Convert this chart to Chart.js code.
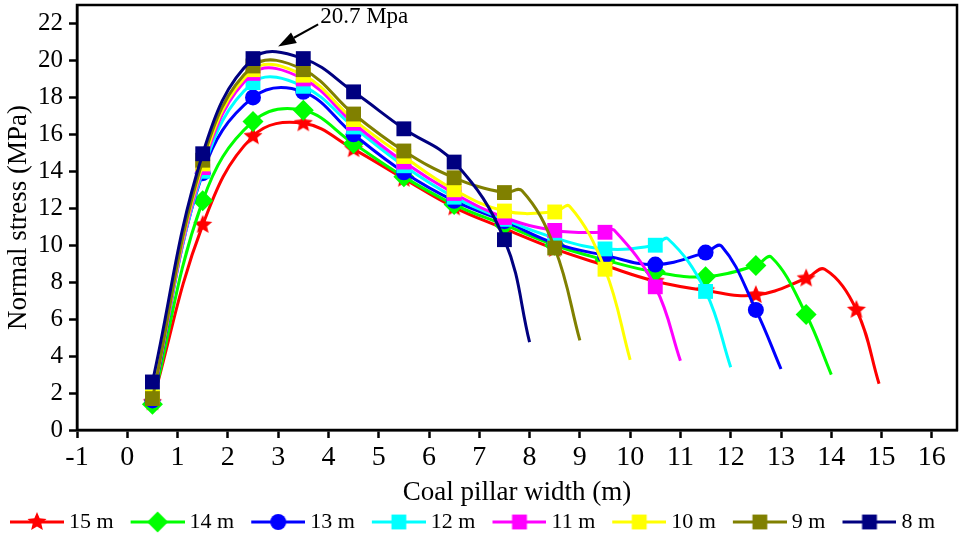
<!DOCTYPE html>
<html>
<head>
<meta charset="utf-8">
<title>Normal stress vs coal pillar width</title>
<script src="https://cdn.jsdelivr.net/npm/chart.js@4.4.1/dist/chart.umd.min.js"></script>
<style>
    html, body { margin: 0; padding: 0; background: #ffffff; }
    #stressChart { display: block; }
</style>
</head>
<body>
<canvas id="stressChart" width="962" height="537"></canvas>
<script>
// --- Data ---
const seriesNames = ['15 m', '14 m', '13 m', '12 m', '11 m', '10 m', '9 m', '8 m'];
const seriesColors = ['#ff0000', '#00ff00', '#0000ff', '#00ffff', '#ff00ff', '#ffff00', '#808000', '#000080'];
const markerX = [0.5, 1.5, 2.5, 3.5, 4.5, 5.5, 6.5, 7.5, 8.5, 9.5, 10.5, 11.5, 12.5, 13.5, 14.5];

const stress15 = [1.5, 11.1, 15.9, 16.6, 15.2, 13.6, 12.05, 10.9, 9.8, 8.9, 8.05, 7.55, 7.3, 8.2, 6.5];
const stress14 = [1.4, 12.4, 16.7, 17.3, 15.5, 13.7, 12.2, 11.1, 10.0, 9.2, 8.55, 8.3, 8.9, 6.25];
const stress13 = [1.6, 13.9, 18.0, 18.3, 16.0, 13.95, 12.4, 11.3, 10.1, 9.45, 8.95, 9.6, 6.5];
const stress12 = [1.8, 14.0, 18.8, 18.6, 16.4, 14.3, 12.6, 11.4, 10.4, 9.8, 10.0, 7.5];
const stress11 = [1.7, 14.2, 19.3, 19.0, 16.6, 14.5, 12.8, 11.5, 10.8, 10.7, 7.75];
const stress10 = [1.8, 14.4, 19.5, 19.2, 16.8, 14.8, 13.0, 11.85, 11.8, 8.7];
const stress9 = [1.7, 14.6, 19.7, 19.5, 17.1, 15.1, 13.65, 12.85, 9.85];
const stress8 = [2.6, 14.95, 20.1, 20.1, 18.3, 16.3, 14.5, 10.3];
const seriesValues = [stress15, stress14, stress13, stress12, stress11, stress10, stress9, stress8];

// crest of each curve just before its final drop (no marker there), null = none
const crestX = [13.87, 12.81, 11.82, 10.75, 9.68, 8.8, 7.85, null];
const crestY = [8.7, 9.35, 9.95, 10.35, 10.82, 12.1, 12.95, null];
// where each curve stops
const endX = [14.95, 14, 13, 12, 11, 10, 9, 8];
const endY = [2.5, 3.0, 3.3, 3.4, 3.75, 3.8, 4.85, 4.75];

// annotated maximum
const peakX = 3.0;
const peakY = 20.65;
const peakLabel = '20.7 Mpa';

// axis ticks
const xTickMin = -1, xTickMax = 16.5, xTickStep = 1;
const yTickMin = 0, yTickMax = 23, yTickStep = 2;

// --- Look ---
const FONT = '"Liberation Serif", "Times New Roman", Times, serif';
Chart.defaults.font.family = FONT;
Chart.defaults.color = '#000';

// --- Marker helpers ---
function starMarker(color, r) {
    const c = document.createElement('canvas');
    const s = Math.ceil(r * 2 + 2);
    c.width = s;
    c.height = s;
    const g = c.getContext('2d');
    g.fillStyle = color;
    g.beginPath();
    for (let i = 0; i < 10; i++) {
        const rr = i % 2 ? r * 0.45 : r;
        const a = -Math.PI / 2 + i * Math.PI / 5;
        g.lineTo(s / 2 + rr * Math.cos(a), s / 2 + rr * Math.sin(a));
    }
    g.closePath();
    g.fill();
    return c;
}

const markerStyles = [starMarker('#ff0000', 10), 'rectRot', 'circle', 'rect', 'rect', 'rect', 'rect', 'rect'];
const markerRadius = [10, 10.5, 8, 10.5, 10.5, 10.5, 10.5, 10.5];

// legend symbol: line with the marker in its middle
const LEG_BOX = 61;
function legendSymbol(color, style, radius) {
    const c = document.createElement('canvas');
    c.width = 73;
    c.height = 24;
    const g = c.getContext('2d');
    g.strokeStyle = color;
    g.lineWidth = 3;
    g.beginPath();
    g.moveTo(19, 12);
    g.lineTo(73, 12);
    g.stroke();
    const cx = 46;
    if (typeof style === 'object') {
        g.drawImage(style, cx - style.width / 2, 12 - style.height / 2);
    } else {
        g.fillStyle = color;
        Chart.helpers.drawPoint(g, { pointStyle: style, radius: radius, rotation: 0, borderWidth: 0 }, cx, 12);
    }
    return c;
}

// --- Build datasets (8 m first so it is drawn on top) ---
function buildPoints(i) {
    const pts = seriesValues[i].map((v, k) => ({ x: markerX[k], y: v, mark: true }));
    if (crestX[i] !== null) pts.push({ x: crestX[i], y: crestY[i], mark: false });
    pts.push({ x: endX[i], y: endY[i], mark: false });
    pts.sort((a, b) => a.x - b.x);
    return pts;
}

const datasets = [];
const legendSymbols = {};
for (let i = seriesNames.length - 1; i >= 0; i--) {
    const r = markerRadius[i];
    legendSymbols[seriesNames[i]] = legendSymbol(seriesColors[i], markerStyles[i], r);
    datasets.push({
        label: seriesNames[i],
        data: buildPoints(i),
        borderColor: seriesColors[i],
        backgroundColor: seriesColors[i],
        borderWidth: 3,
        tension: 0.4,
        fill: false,
        pointStyle: markerStyles[i],
        pointBackgroundColor: seriesColors[i],
        pointBorderColor: seriesColors[i],
        pointBorderWidth: 0,
        pointRadius: (c) => (c.raw && c.raw.mark ? r : 0)
    });
}

// --- Plugins: frame box and peak annotation ---
const plotFrame = {
    id: 'plotFrame',
    afterDraw(chart) {
        const { ctx, chartArea } = chart;
        ctx.save();
        ctx.strokeStyle = '#000';
        ctx.lineWidth = 2.5;
        ctx.strokeRect(chartArea.left, chartArea.top, chartArea.right - chartArea.left, chartArea.bottom - chartArea.top);
        ctx.restore();
    }
};

const peakNote = {
    id: 'peakNote',
    afterDatasetsDraw(chart) {
        const { ctx, scales } = chart;
        const tipX = scales.x.getPixelForValue(peakX);
        const tipY = scales.y.getPixelForValue(peakY) - 2;
        const tailX = tipX + 40;
        const tailY = tipY - 22;
        const ang = Math.atan2(tipY - tailY, tipX - tailX);
        const headLen = 18, headHalf = 6;
        const bx = tipX - headLen * Math.cos(ang);
        const by = tipY - headLen * Math.sin(ang);

        ctx.save();
        ctx.strokeStyle = '#000';
        ctx.fillStyle = '#000';
        ctx.lineWidth = 2;
        ctx.beginPath();
        ctx.moveTo(tailX, tailY);
        ctx.lineTo(bx, by);
        ctx.stroke();
        ctx.beginPath();
        ctx.moveTo(tipX, tipY);
        ctx.lineTo(bx + headHalf * Math.sin(ang), by - headHalf * Math.cos(ang));
        ctx.lineTo(bx - headHalf * Math.sin(ang), by + headHalf * Math.cos(ang));
        ctx.closePath();
        ctx.fill();

        ctx.font = '23px ' + FONT;
        ctx.textAlign = 'left';
        ctx.textBaseline = 'alphabetic';
        ctx.fillText(peakLabel, tailX + 2, tailY - 1);
        ctx.restore();
    }
};

// --- Chart ---
const ctx = document.getElementById('stressChart').getContext('2d');
const stressChart = new Chart(ctx, {
    type: 'line',
    data: { datasets: datasets },
    options: {
        responsive: false,
        animation: false,
        events: [],
        layout: { autoPadding: false, padding: { left: -7, right: 5, top: 5, bottom: -6 } },
        scales: {
            x: {
                type: 'linear',
                min: xTickMin,
                max: xTickMax,
                ticks: {
                    stepSize: xTickStep,
                    includeBounds: false,
                    autoSkip: false,
                    maxRotation: 0,
                    padding: 3,
                    color: '#000',
                    font: { size: 28 }
                },
                grid: { drawOnChartArea: false, drawTicks: true, tickLength: 8, tickWidth: 2.5, tickColor: '#000' },
                border: { color: '#000', width: 2.5 },
                title: {
                    display: true,
                    text: 'Coal pillar width (m)',
                    color: '#000',
                    font: { size: 27 },
                    padding: { top: 0, bottom: -2 }
                },
                afterFit(scale) {
                    scale.height = 77;
                    scale.paddingLeft = 0;
                    scale.paddingRight = 0;
                }
            },
            y: {
                min: yTickMin,
                max: yTickMax,
                ticks: {
                    stepSize: yTickStep,
                    includeBounds: false,
                    padding: 6,
                    color: '#000',
                    font: { size: 25 }
                },
                grid: { drawOnChartArea: false, drawTicks: true, tickLength: 8, tickWidth: 2.5, tickColor: '#000' },
                border: { color: '#000', width: 2.5 },
                title: {
                    display: true,
                    text: 'Normal stress (MPa)',
                    color: '#000',
                    font: { size: 27 },
                    padding: { top: 10, bottom: 0 }
                },
                afterFit(scale) {
                    scale.width = 84;
                    scale.paddingTop = 0;
                    scale.paddingBottom = 0;
                }
            }
        },
        plugins: {
            legend: {
                position: 'bottom',
                align: 'start',
                reverse: true,
                labels: {
                    usePointStyle: true,
                    pointStyleWidth: LEG_BOX,
                    padding: 4,
                    color: '#000',
                    font: { size: 22 },
                    generateLabels(chart) {
                        const items = Chart.defaults.plugins.legend.labels.generateLabels(chart);
                        items.forEach(item => { item.pointStyle = legendSymbols[item.text]; });
                        return items;
                    }
                }
            },
            tooltip: { enabled: false }
        }
    },
    plugins: [plotFrame, peakNote]
});
</script>
</body>
</html>
